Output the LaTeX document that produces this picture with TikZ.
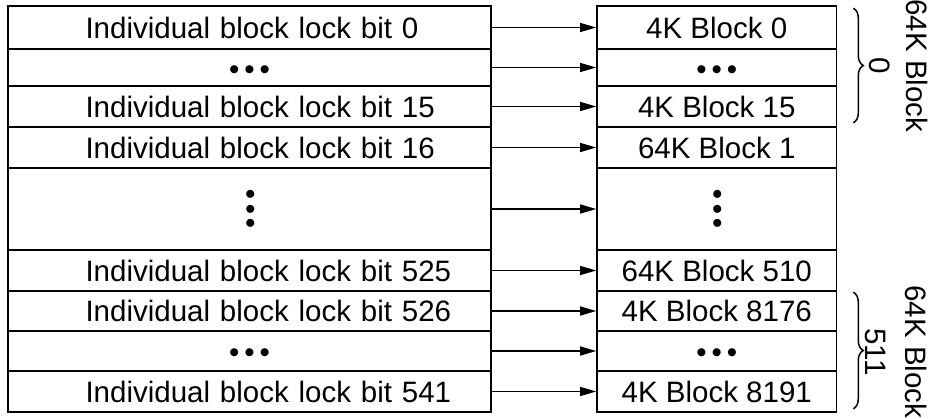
\documentclass[tikz,border=0pt]{standalone}
\usepackage{fontspec}
\setmainfont{Liberation Sans}
\usetikzlibrary{positioning, arrows.meta, decorations.pathreplacing, calc}

\tikzset{
    bitrow/.style={draw, line width=1.6pt, minimum width=483pt, minimum height=#1, inner ysep=0pt, inner xsep=77.5pt, text width=328pt, align=left},
    blockrow/.style={draw, line width=1.6pt, minimum width=239.5pt, minimum height=#1, inner sep=0pt},
    lockarrow/.style={line width=1.2pt, -{Triangle[length=16pt, width=9pt]}},
    groupbrace/.style={decorate, decoration={brace, amplitude=10pt}, line width=1.5pt},
    grouplabel/.style={rotate=-90, align=center, font=\fontsize{29.5}{#1}\selectfont},
    moredots/.style={inner sep=0pt},
}
\hfuzz=100pt
\newcommand{\hdots}{•\hspace{5pt}•\hspace{5pt}•}
\newcommand{\vdotsrow}{•\hspace{4pt}•\hspace{4pt}•}

\begin{document}
\begin{tikzpicture}[x=1pt, y=-1pt, font=\fontsize{29.5}{35}\selectfont]
    \useasboundingbox (0,0) rectangle (935,418);

    %Lock bits
    \node[bitrow=43pt] (l1) at (249.5,27.5) {\mbox{Individual block lock bit 0}};
    \node[bitrow=37pt] (l2) at (249.5,67.5) {};
    \node[bitrow=41pt] (l3) at (249.5,106.5) {\mbox{Individual block lock bit 15}};
    \node[bitrow=41pt] (l4) at (249.5,147.5) {\mbox{Individual block lock bit 16}};
    \node[bitrow=82pt] (l5) at (249.5,209) {};
    \node[bitrow=41pt] (l6) at (249.5,270.5) {\mbox{Individual block lock bit 525}};
    \node[bitrow=40pt] (l7) at (249.5,311) {\mbox{Individual block lock bit 526}};
    \node[bitrow=40pt] (l8) at (249.5,351) {};
    \node[bitrow=41pt] (l9) at (249.5,391.5) {\mbox{Individual block lock bit 541}};

    %Blocks
    \node[blockrow=43pt, right=104.4pt of l1] (r1) {4K Block 0};
    \node[blockrow=37pt, right=104.4pt of l2] (r2) {};
    \node[blockrow=41pt, right=104.4pt of l3] (r3) {4K Block 15};
    \node[blockrow=41pt, right=104.4pt of l4] (r4) {64K Block 1};
    \node[blockrow=82pt, right=104.4pt of l5] (r5) {};
    \node[blockrow=41pt, right=104.4pt of l6] (r6) {64K Block 510};
    \node[blockrow=40pt, right=104.4pt of l7] (r7) {4K Block 8176};
    \node[blockrow=40pt, right=104.4pt of l8] (r8) {};
    \node[blockrow=41pt, right=104.4pt of l9] (r9) {4K Block 8191};

    %Dots
    \node[moredots] (dl2) at ($(l2)+(0,5)$) {\hdots};
    \node[moredots] (dr2) at ($(r2)+(0,5)$) {\hdots};
    \node[moredots, rotate=90] (dl5) at ($(l5)+(4,0)$) {\vdotsrow};
    \node[moredots, rotate=90] (dr5) at ($(r5)+(4,0)$) {\vdotsrow};
    \node[moredots] (dl8) at ($(l8)+(0,5)$) {\hdots};
    \node[moredots] (dr8) at ($(r8)+(0,5)$) {\hdots};

    %Arrows
    \draw[lockarrow] (l1.east) -- (r1.west);
    \draw[lockarrow] (l2.east) -- (r2.west);
    \draw[lockarrow] (l3.east) -- (r3.west);
    \draw[lockarrow] (l4.east) -- (r4.west);
    \draw[lockarrow] (l5.east) -- (r5.west);
    \draw[lockarrow] (l6.east) -- (r6.west);
    \draw[lockarrow] (l7.east) -- (r7.west);
    \draw[lockarrow] (l8.east) -- (r8.west);
    \draw[lockarrow] (l9.east) -- (r9.west);

    %Groups
    \coordinate (b0top) at ($(r1.north east)+(16,3)$);
    \coordinate (b0bot) at ($(r3.south east)+(16,-5)$);
    \coordinate (b1top) at ($(r7.north east)+(16,2)$);
    \coordinate (b1bot) at ($(r9.south east)+(16,-4)$);
    \draw[groupbrace] (b0top) -- (b0bot);
    \draw[groupbrace] (b1top) -- (b1bot);
    \node[grouplabel=37] (g0) at (899,66) {64K Block\\0};
    \node[grouplabel=40] (g1) at (896,352) {64K Block\\511};
\end{tikzpicture}
\end{document}
